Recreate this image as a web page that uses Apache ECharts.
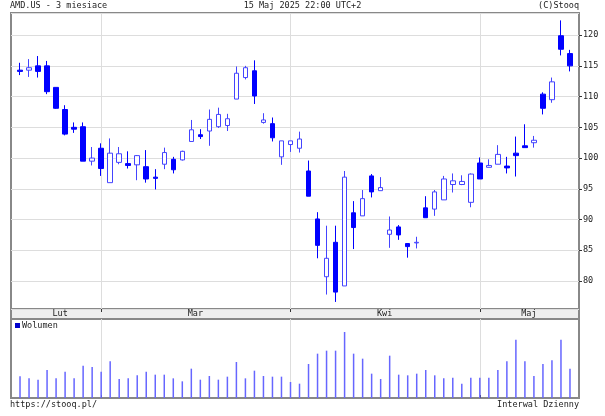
<!DOCTYPE html>
<html lang="pl">
<head>
<meta charset="UTF-8">
<title>AMD.US</title>
<script src="https://cdn.jsdelivr.net/npm/echarts@6/dist/echarts.min.js"></script>
<style>html,body{margin:0;padding:0;background:#fff}</style>
</head>
<body>
<div id="main" style="width:605px;height:416px"></div>
<script>
// sesje (luty - maj 2025)
var dates = [
    '02-18','02-19','02-20','02-21','02-24','02-25','02-26','02-27','02-28',
    '03-03','03-04','03-05','03-06','03-07','03-10','03-11','03-12','03-13','03-14',
    '03-17','03-18','03-19','03-20','03-21','03-24','03-25','03-26','03-27','03-28','03-31',
    '04-01','04-02','04-03','04-04','04-07','04-08','04-09','04-10','04-11',
    '04-14','04-15','04-16','04-17','04-21','04-22','04-23','04-24','04-25','04-28','04-29','04-30',
    '05-01','05-02','05-05','05-06','05-07','05-08','05-09','05-12','05-13','05-14','05-15'
];
var opens  = [114.3,114.3,115.0,115.0,111.5,107.9,105.0,105.1,99.5,101.6,96.0,99.3,99.1,98.9,98.6,96.9,99.0,99.8,99.7,102.7,103.8,104.4,105.1,105.3,109.6,113.1,114.2,105.8,105.6,100.2,102.2,101.6,97.9,90.1,80.7,86.3,79.2,91.1,90.6,97.1,94.7,87.6,88.8,86.1,86.2,91.9,91.7,93.2,95.7,95.7,92.8,99.2,98.5,99.0,98.7,100.8,102.0,102.5,110.4,109.5,119.9,117.0];
var closes = [114.1,114.7,114.1,110.8,108.1,103.9,104.7,99.5,100.0,98.3,100.8,100.7,98.8,100.4,96.6,96.7,100.9,98.1,101.1,104.6,103.5,106.3,107.1,106.4,113.8,114.7,110.1,106.2,103.3,102.8,102.8,103.1,93.8,85.8,83.7,78.2,96.9,88.7,93.4,94.5,95.2,88.3,87.5,85.6,86.3,90.3,94.5,96.6,96.3,96.2,97.4,96.6,98.8,100.6,98.4,100.4,101.7,102.9,108.1,112.4,117.7,115.0];
var lows   = [113.5,113.2,113.1,110.4,108.0,103.7,104.1,99.5,98.8,97.1,96.0,99.0,98.3,96.4,96.0,94.9,98.2,97.5,99.6,102.7,103.1,102.0,104.9,104.4,109.6,112.8,108.8,105.6,102.7,98.9,101.0,100.9,93.8,83.7,77.8,76.6,79.2,85.2,90.6,93.6,94.7,85.4,86.7,83.8,85.3,90.3,90.6,93.2,94.4,95.6,92.0,96.6,98.5,99.0,97.5,97.0,101.7,101.7,107.1,109.0,116.7,114.1];
var highs  = [115.5,116.1,116.6,115.8,111.5,108.6,105.8,105.8,101.8,102.4,103.2,101.8,101.1,100.5,101.3,98.2,101.7,100.2,101.2,106.2,104.7,107.9,108.2,107.2,114.9,115.0,115.9,107.3,106.6,102.8,102.8,104.3,99.6,91.2,89.0,89.0,97.9,93.0,94.8,97.4,96.9,90.5,89.1,86.1,87.2,93.8,94.8,97.1,97.5,97.2,97.5,100.1,99.8,102.1,100.2,103.5,105.5,103.6,110.7,113.1,122.4,117.6];
var volumes = [65,59,55,84,59,79,59,97,93,79,110,57,59,68,79,70,70,59,50,88,55,66,55,64,108,59,82,66,64,64,48,43,102,133,142,142,198,133,118,73,57,127,70,68,73,84,68,59,61,43,61,61,61,84,110,175,110,66,102,113,175,88];

var monthNames = ['Lut', 'Mar', 'Kwi', 'Maj'];
var monthLabelAt = [5, 20, 41, 57];   // indeksy kategorii (z marginesem)
var monthStartAt = [10, 31, 52];

var cats = [''].concat(dates).concat([' ']);
var candles = [['-', '-', '-', '-']];
var vols = ['-'];
for (var i = 0; i < dates.length; i++) {
    candles.push([opens[i], closes[i], lows[i], highs[i]]);
    vols.push(volumes[i]);
}
candles.push(['-', '-', '-', '-']);
vols.push('-');

var FONT = 'DejaVu Sans Mono';
var monthLine = function (idx) { return monthStartAt.indexOf(idx) >= 0; };

var myChart = echarts.init(document.getElementById('main'));
var option = {
    animation: false,
    textStyle: { fontFamily: FONT },
    graphic: [
        { type: 'rect', shape: { x: 11, y: 309, width: 568, height: 10 }, style: { fill: '#eeeeee', stroke: '#888', lineWidth: 2 }, z: -1 },
        { type: 'text', left: 10, top: 1, style: { text: 'AMD.US - 3 miesiace', font: '8.5px "DejaVu Sans Mono"', fill: '#222' } },
        { type: 'text', left: 'center', top: 1, style: { text: '15 Maj 2025 22:00 UTC+2', font: '8.5px "DejaVu Sans Mono"', fill: '#222' } },
        { type: 'text', right: 26, top: 1, style: { text: '(C)Stooq', font: '8.5px "DejaVu Sans Mono"', fill: '#222' } },
        { type: 'text', left: 10, top: 400, style: { text: 'https://stooq.pl/', font: '8.5px "DejaVu Sans Mono"', fill: '#222' } },
        { type: 'text', right: 26, top: 400, style: { text: 'Interwal Dzienny', font: '8.5px "DejaVu Sans Mono"', fill: '#222' } },
        { type: 'rect', shape: { x: 15, y: 323, width: 5, height: 5 }, style: { fill: '#0000cc' } },
        { type: 'text', left: 22, top: 321, style: { text: 'Wolumen', font: '8.5px "DejaVu Sans Mono"', fill: '#222' } }
    ],
    grid: [
        { left: 11, top: 13, width: 568, height: 296, show: true, borderColor: '#888', borderWidth: 2, backgroundColor: '#fff' },
        { left: 11, top: 319, width: 568, height: 79, show: true, borderColor: '#888', borderWidth: 2, backgroundColor: '#fff' }
    ],
    xAxis: [
        {
            type: 'category', gridIndex: 0, data: cats, boundaryGap: false,
            axisLine: { show: false },
            axisTick: { show: true, interval: monthLine, length: 3, lineStyle: { color: '#333' } },
            axisLabel: { show: false },
            splitLine: { show: true, interval: monthLine, lineStyle: { color: '#ddd' } }
        },
        {
            type: 'category', gridIndex: 1, data: cats, boundaryGap: false, position: 'top',
            axisLine: { show: false },
            axisTick: { show: true, interval: monthLine, length: 3, lineStyle: { color: '#333' } },
            axisLabel: {
                show: true, margin: 1, fontSize: 8.5, color: '#222', fontFamily: FONT,
                padding: [0, 0, 0, 8],
                interval: function (idx) { return monthLabelAt.indexOf(idx) >= 0; },
                formatter: function (v, idx) {
                    var k = monthLabelAt.indexOf(idx);
                    return k >= 0 ? monthNames[k] : '';
                }
            },
            splitLine: { show: true, interval: monthLine, lineStyle: { color: '#ddd' } }
        }
    ],
    yAxis: [
        {
            type: 'value', gridIndex: 0, position: 'right', min: 75.45, max: 123.6, splitNumber: 10,
            axisLine: { show: false },
            axisTick: { show: true, length: 3, lineStyle: { color: '#333' } },
            axisLabel: { fontSize: 8.5, color: '#222', fontFamily: FONT, margin: 4, showMinLabel: false, showMaxLabel: false },
            splitLine: { lineStyle: { color: '#ddd' } }
        },
        {
            type: 'value', gridIndex: 1, min: 0, max: 237,
            axisLine: { show: false }, axisTick: { show: false }, axisLabel: { show: false },
            splitLine: { show: false }
        }
    ],
    series: [
        {
            name: 'AMD.US', type: 'candlestick', xAxisIndex: 0, yAxisIndex: 0,
            data: candles, barWidth: 5,
            itemStyle: { color: '#ffffff', color0: '#0000ff', borderColor: '#4444ff', borderColor0: '#0000ff', borderWidth: 1 }
        },
        {
            name: 'Wolumen', type: 'bar', xAxisIndex: 1, yAxisIndex: 1,
            data: vols, barWidth: 1.5,
            itemStyle: { color: '#6666ff' }
        }
    ]
};
myChart.setOption(option);
</script>
</body>
</html>
